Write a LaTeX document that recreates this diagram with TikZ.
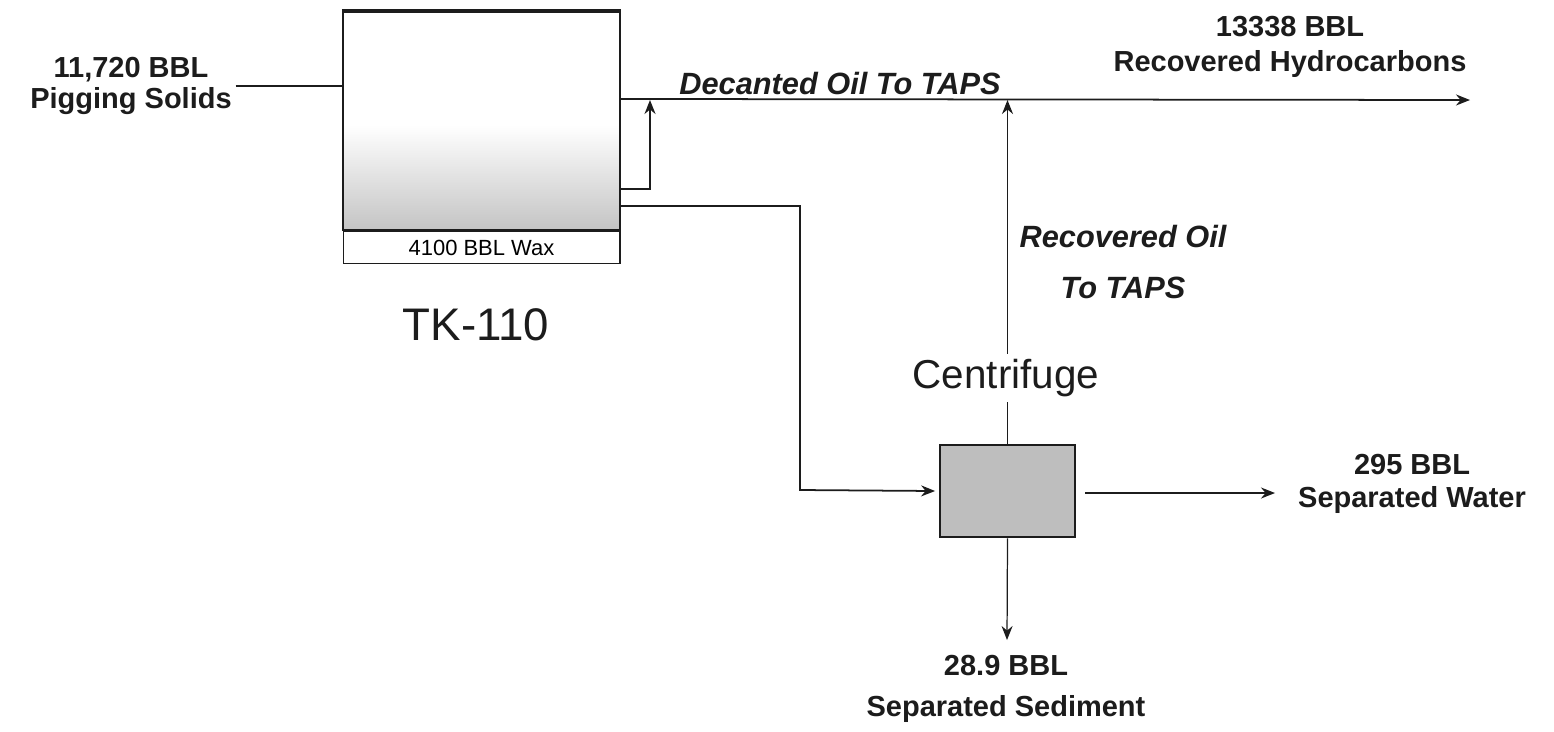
\documentclass[tikz,border=0pt]{standalone}
\usepackage{fontspec}
\setmainfont{Liberation Sans}
\usetikzlibrary{arrows.meta, positioning, calc}
\definecolor{lineDark}{HTML}{1C1C1C}
\definecolor{sludgeGray}{HTML}{C4C4C4}
\definecolor{cfGray}{HTML}{BEBEBE}
\tikzset{
  flow/.style={-{Stealth[length=2.8mm, width=2.2mm]}, lineDark, line width=1pt},
  pipe/.style={lineDark, line width=1pt},
  lblB/.style={align=center, font=\fontsize{16.5}{18}\selectfont\bfseries,
               text=lineDark, inner sep=2pt},
  lblI/.style={align=center, font=\fontsize{17.5}{19}\selectfont\bfseries\itshape,
               text=lineDark, inner sep=2pt},
  lblBig/.style={font=\fontsize{23}{26}\selectfont, text=lineDark, inner sep=3pt},
  vessel/.style={rectangle, draw=lineDark, line width=1.2pt, inner sep=0pt},
}
\begin{document}
\begin{tikzpicture}[x=0.02cm, y=-0.02cm]
    \useasboundingbox (0,0) rectangle (1554,731);
    % tank TK-110 with settled sludge
    \shade[top color=white, bottom color=sludgeGray] (343,125) rectangle (620,230);
    \node[vessel, minimum width=5.54cm, minimum height=4.36cm] (tank) at (481.5,121) {};
    \draw[lineDark, line width=2.6pt] (tank.north west) -- (tank.north east);
    \node[vessel, line width=0.6pt, minimum width=5.54cm, minimum height=0.64cm,
          font=\fontsize{12.5}{14}\selectfont, below=0pt of tank] (wax) {4100 BBL Wax};
    \node[lblBig, font=\fontsize{26}{30}\selectfont] (tklbl) at (476,325) {TK-110};
    % centrifuge
    \node[vessel, fill=cfGray, line width=1.6pt, minimum width=2.7cm,
          minimum height=1.84cm] (cent) at (1007.5,491) {};
    \node[lblBig] (centlbl) at (1006,378) {Centrifuge};
    % stream labels
    \node[lblB] (feed) at (131,86) {11,720 BBL\\[-0.5pt]Pigging Solids};
    \node[lblB] (hydro) at (1290,47) {13338 BBL\\[1.8pt]Recovered Hydrocarbons};
    \node[lblI] (decant) at (840,84) {Decanted Oil To TAPS};
    \node[lblI] (recoil) at (1123,262) {Recovered Oil\\[10pt]To TAPS};
    \node[lblB] (water) at (1412,484) {295 BBL\\[0.7pt]Separated Water};
    \node[lblB] (sed) at (1006,689) {28.9 BBL\\[5.5pt]Separated Sediment};
    % ports on tank and tee points
    \coordinate (tkTop) at ($(tank.north east)+(0,88)$);
    \coordinate (tkMid) at ($(tank.north east)+(0,178)$);
    \coordinate (tkLow) at ($(tank.north east)+(0,195)$);
    \coordinate (hydroEnd) at (1470,100);
    \coordinate (teeA) at (650,100);
    \coordinate (waterEnd) at (1275,493);
    \coordinate (sedEnd) at (1007,640);
    % flows
    \draw[pipe] (feed.east) -- (feed.east -| tank.west);
    \draw[flow] (tkTop) -- (hydroEnd);
    \draw[flow] (tkMid) -| (teeA);
    \draw[flow] (tkLow) -| (800,490) -- ([xshift=-2pt]cent.west);
    \draw[pipe] (cent.north) -- (centlbl.south -| cent.north);
    \draw[flow] (centlbl.north -| cent.north) -- (hydroEnd -| cent.north);
    \draw[flow] ([xshift=5pt]cent.east |- waterEnd) -- (waterEnd);
    \draw[flow, line width=0.7pt] (cent.south) -- (sedEnd);
  \end{tikzpicture}
\end{document}
